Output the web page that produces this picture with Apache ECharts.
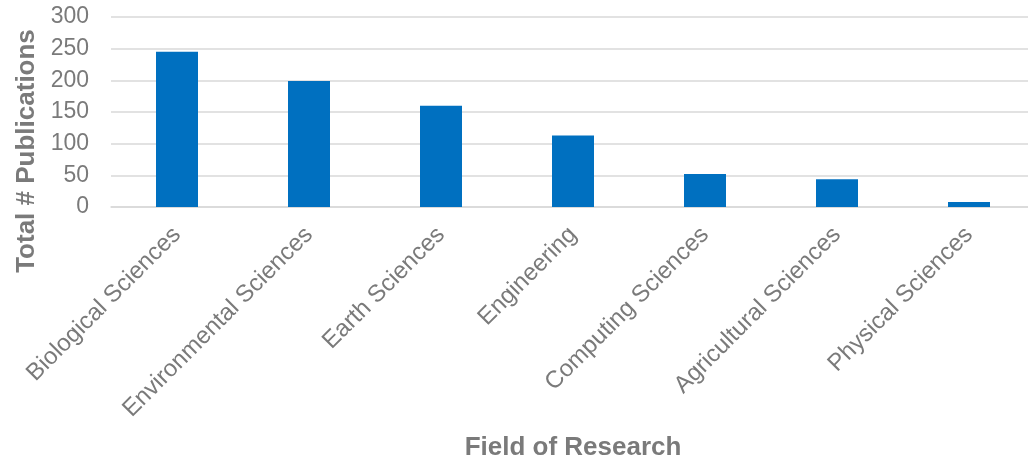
<!DOCTYPE html>
<html>
<head>
<meta charset="utf-8">
<script src="https://cdn.jsdelivr.net/npm/echarts@6/dist/echarts.min.js"></script>
<style>
  html, body { margin: 0; padding: 0; background: #ffffff; }
  #chart { width: 1028px; height: 460px; }
</style>
</head>
<body>
<div id="chart"></div>
<script>
// Publications by field of research
const fields = [
  'Biological Sciences',
  'Environmental Sciences',
  'Earth Sciences',
  'Engineering',
  'Computing Sciences',
  'Agricultural Sciences',
  'Physical Sciences'
];
const publications = [245, 199, 160, 113, 52, 44, 8];
const yTicks = [0, 50, 100, 150, 200, 250, 300];

const FONT = '"Liberation Sans", Arial, sans-serif';
const TEXT_GRAY = '#7a7a7a';
const GRID_GRAY = '#d9d9d9';

const chart = echarts.init(document.getElementById('chart'));
chart.setOption({
  animation: false,
  grid: { left: 111, top: 17, bottom: 253, right: -7, outerBoundsMode: 'none', containLabel: false },
  xAxis: {
    type: 'category',
    data: fields,
    axisLine: { lineStyle: { color: GRID_GRAY, width: 1.5 } },
    axisTick: { show: false },
    axisLabel: {
      rotate: 45,
      interval: 0,
      margin: 24,
      color: TEXT_GRAY,
      fontSize: 24,
      fontFamily: FONT
    },
    name: 'Field of Research',
    nameLocation: 'middle',
    nameGap: 228,
    nameTextStyle: { color: TEXT_GRAY, fontSize: 26, fontWeight: 'bold', fontFamily: FONT }
  },
  yAxis: {
    type: 'value',
    min: yTicks[0],
    max: yTicks[yTicks.length - 1],
    interval: yTicks[1] - yTicks[0],
    axisLine: { show: false },
    axisTick: { show: false },
    splitLine: { lineStyle: { color: GRID_GRAY, width: 1.5 } },
    axisLabel: {
      margin: 22,
      color: TEXT_GRAY,
      fontSize: 23,
      fontFamily: FONT
    }
  },
  graphic: [{
    type: 'text',
    rotation: Math.PI / 2,
    x: 27,
    y: 151,
    style: {
      text: 'Total # Publications',
      fill: TEXT_GRAY,
      font: 'bold 26px ' + FONT,
      textAlign: 'center',
      textVerticalAlign: 'middle'
    }
  }],
  series: [{
    type: 'bar',
    data: publications,
    barWidth: 42,
    itemStyle: { color: '#0070C0' }
  }]
});
</script>
</body>
</html>
